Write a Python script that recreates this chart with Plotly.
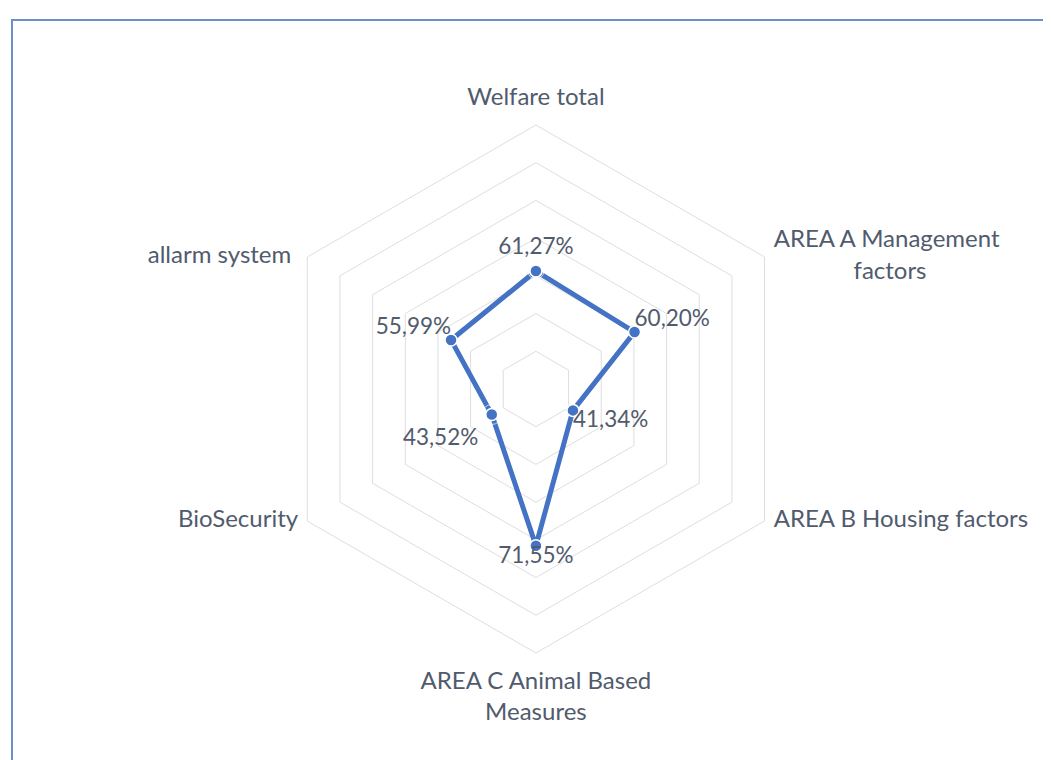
import plotly.graph_objects as go

NBSP = "\u00a0"

categories = ["Welfare total", "AREA A Management factors", "AREA B Housing factors",
              "AREA C Animal Based Measures", "BioSecurity", "allarm system"]
category_labels = ["Welfare total", "AREA A Management<br>" + NBSP * 13 + "factors",
                   "AREA B Housing factors", "AREA C Animal Based<br>Measures",
                   "BioSecurity", "allarm system"]
values = [0.6127, 0.6020, 0.4134, 0.7155, 0.4352, 0.5599]
axis_min, axis_max, axis_step = 0.3, 1.0, 0.1

value_positions = ["top center", "top right", "bottom right", "bottom center", "bottom left", "top left"]
value_gaps = [16, 0, 0, 0, 20, 0]
category_positions = ["top center", "middle right", "middle right", "bottom center", "middle left", "middle left"]
category_gaps = [21, 13, 13, 27, 13, 24]

labels = [f"{v*100:.2f}%".replace(".", ",") for v in values]

line_color = "#4472C4"
text_color = "#515B6D"
grid_color = "#DEDEDE"
font_family = "Lato"

fig = go.Figure()
fig.add_trace(go.Scatterpolar(
    r=values + values[:1],
    theta=categories + categories[:1],
    mode="lines+markers",
    line=dict(color=line_color, width=5),
    marker=dict(size=12, color=line_color, line=dict(color="white", width=1.5)),
    showlegend=False,
    hoverinfo="skip",
))
fig.add_trace(go.Scatterpolar(
    r=values,
    theta=categories,
    mode="markers+text",
    text=labels,
    textposition=value_positions,
    marker=dict(size=value_gaps, color="rgba(0,0,0,0)"),
    textfont=dict(family=font_family, size=22.5, color=text_color),
    showlegend=False,
    hoverinfo="skip",
))
fig.add_trace(go.Scatterpolar(
    r=[axis_max] * len(categories),
    theta=categories,
    mode="markers+text",
    text=category_labels,
    textposition=category_positions,
    marker=dict(size=category_gaps, color="rgba(0,0,0,0)"),
    textfont=dict(family=font_family, size=24, color=text_color),
    cliponaxis=False,
    showlegend=False,
    hoverinfo="skip",
))

fig.update_layout(
    width=1051, height=760,
    margin=dict(l=0, r=0, t=0, b=0),
    paper_bgcolor="white",
    font=dict(family=font_family, color=text_color, size=24),
    polar=dict(
        domain=dict(x=[0.2511, 0.7535], y=[0.1487, 0.8487]),
        bgcolor="white",
        gridshape="linear",
        radialaxis=dict(
            range=[axis_min, axis_max], dtick=axis_step, tick0=axis_min,
            showticklabels=False, ticks="", showline=False,
            gridcolor=grid_color, gridwidth=1,
        ),
        angularaxis=dict(
            rotation=90, direction="clockwise",
            showgrid=False, showline=True, linecolor=grid_color, linewidth=1,
            ticks="", showticklabels=False,
        ),
    ),
    shapes=[dict(type="rect", xref="paper", yref="paper",
                 x0=4/1051, x1=1.02, y0=-0.02, y1=1-12/760,
                 line=dict(color="#6E8FC9", width=2), fillcolor="rgba(0,0,0,0)")],
)

fig.write_html("out.html")
